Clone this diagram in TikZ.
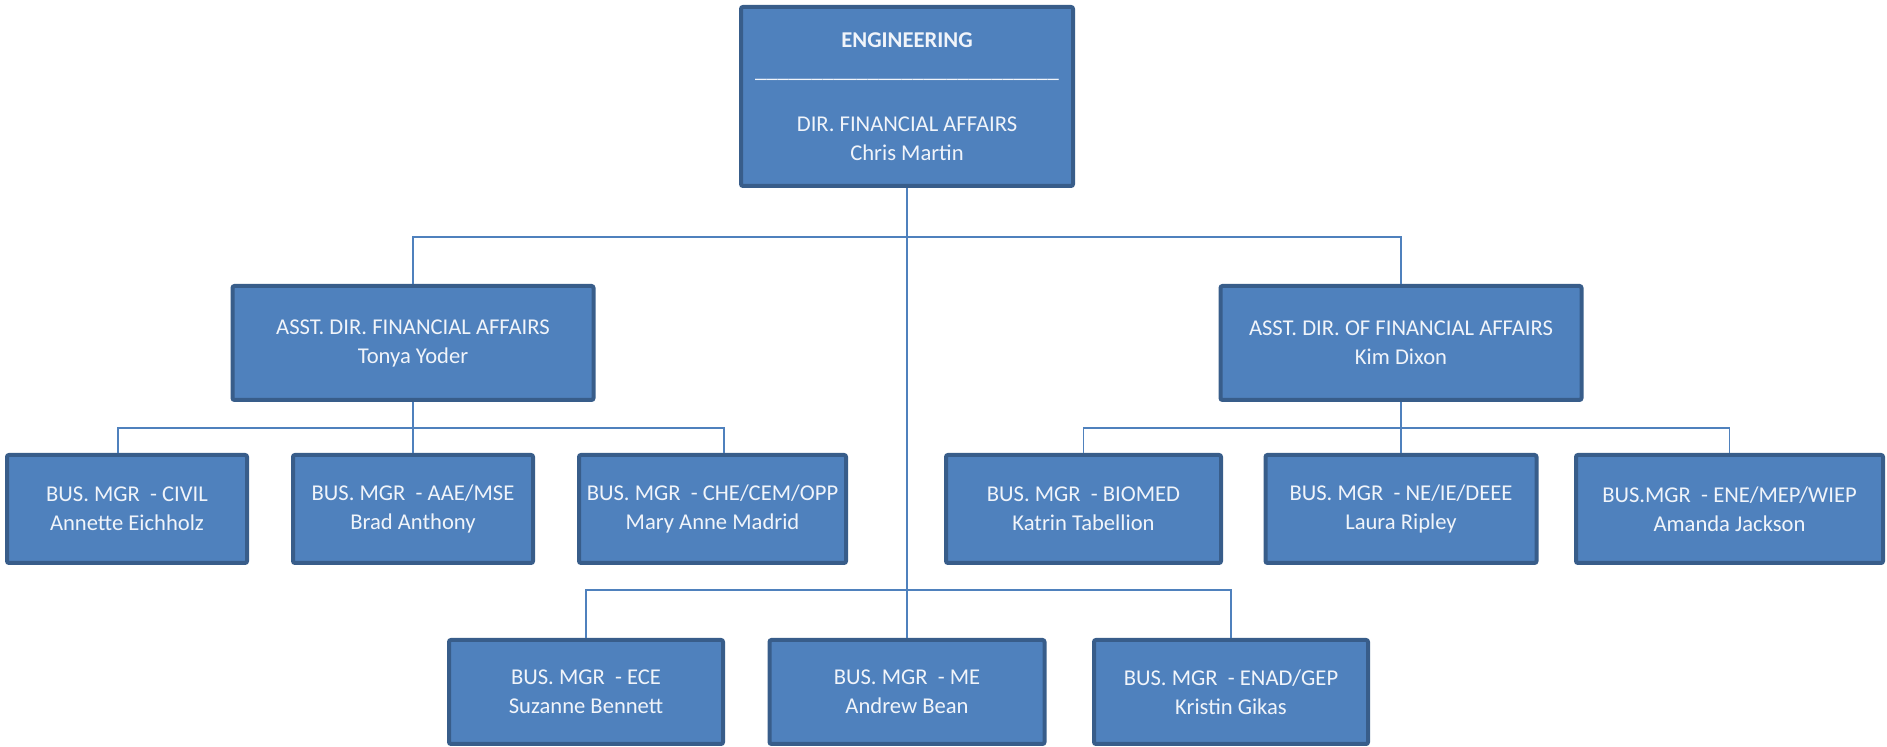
\documentclass[tikz,border=0pt]{standalone}
\usepackage{fontspec}
\setmainfont{Carlito}
\usetikzlibrary{positioning}

% Define colors
\definecolor{boxfill}{RGB}{79, 129, 189}
\definecolor{boxline}{RGB}{56, 93, 138}
\definecolor{linkline}{RGB}{79, 129, 189}
\definecolor{boxtext}{RGB}{240, 244, 250}

\tikzset{
  orgbox/.style={draw=boxline, fill=boxfill, line width=2pt, rounded corners=1pt,
    text=boxtext, align=center, inner sep=0pt,
    font=\fontsize{11.3}{14.5}\selectfont},
  link/.style={draw=linkline, line width=0.8pt},
}

\begin{document}
\begin{tikzpicture}[x=0.5pt, y=-0.5pt]

\useasboundingbox (0, 0) rectangle (1887, 747);

% Head of the chart
\node[orgbox, minimum width=166pt, minimum height=89.5pt] (eng) at (907, 96.5)
  {\textbf{ENGINEERING}\\[0.5pt]
   \_\_\_\_\_\_\_\_\_\_\_\_\_\_\_\_\_\_\_\_\_\_\_\_\_\_\_\\[12.5pt]
   DIR. FINANCIAL AFFAIRS\\Chris Martin};

% Assistant directors
\node[orgbox, minimum width=180.5pt, minimum height=57pt] (asstl) at (413, 343)
  {ASST. DIR. FINANCIAL AFFAIRS\\Tonya Yoder};
\node[orgbox, minimum width=180.5pt, minimum height=57pt] (asstr) at (1401, 343)
  {ASST. DIR. OF FINANCIAL AFFAIRS\\Kim Dixon};

% Business managers, left group
\node[orgbox, minimum width=120pt, minimum height=54pt] (civil) at (127, 509)
  {BUS. MGR\ \ - CIVIL\\Annette Eichholz};
\node[orgbox, minimum width=120pt, minimum height=54pt] (aae) at (413, 509)
  {BUS. MGR\ \ - AAE/MSE\\Brad Anthony};
\node[orgbox, minimum width=133.5pt, minimum height=54pt] (che) at (712.5, 509)
  {BUS. MGR\ \ - CHE/CEM/OPP\\Mary Anne Madrid};

% Business managers, right group
\node[orgbox, minimum width=137.5pt, minimum height=54pt] (biomed) at (1083.5, 509)
  {BUS. MGR\ \ - BIOMED\\Katrin Tabellion};
\node[orgbox, minimum width=135.5pt, minimum height=54pt] (ne) at (1401, 509)
  {BUS. MGR\ \ - NE/IE/DEEE\\Laura Ripley};
\node[orgbox, minimum width=153.5pt, minimum height=54pt] (ene) at (1729.5, 509)
  {BUS.MGR\ \ - ENE/MEP/WIEP\\Amanda Jackson};

% Business managers, bottom row
\node[orgbox, minimum width=137pt, minimum height=52pt] (ece) at (586, 692)
  {BUS. MGR\ \ - ECE\\Suzanne Bennett};
\node[orgbox, minimum width=137.5pt, minimum height=52pt] (me) at (907, 692)
  {BUS. MGR\ \ - ME\\Andrew Bean};
\node[orgbox, minimum width=137pt, minimum height=52pt] (enad) at (1231, 692)
  {BUS. MGR\ \ - ENAD/GEP\\Kristin Gikas};

% Bus points
\coordinate (busA) at (907, 237);
\coordinate (busL) at (413, 428);
\coordinate (busR) at (1401, 428);
\coordinate (busB) at (907, 590);

% Connectors
\begin{scope}[on background layer/.try]
\draw[link] (eng.south) -- (me.north);
\draw[link] (asstl.north) |- (busA) -| (asstr.north);
\draw[link] (asstl.south) -- (aae.north);
\draw[link] ([xshift=-4.5pt]civil.north) |- (busL) -| ([xshift=5.75pt]che.north);
\draw[link] (asstr.south) -- (ne.north);
\draw[link] (biomed.north) |- (busR) -| (ene.north);
\draw[link] (ece.north) |- (busB) -| (enad.north);
\end{scope}

\end{tikzpicture}
\end{document}
